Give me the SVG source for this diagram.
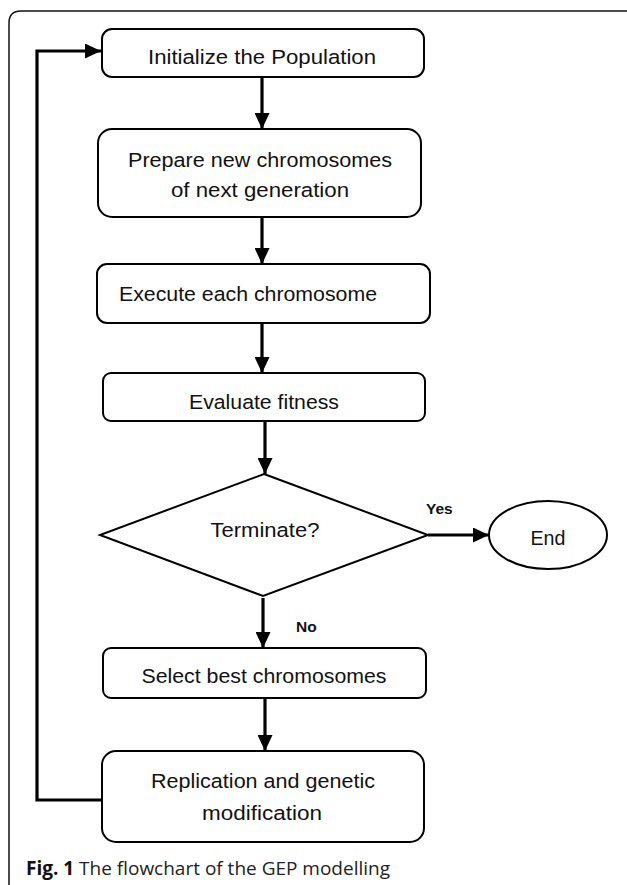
<svg xmlns="http://www.w3.org/2000/svg" width="627" height="885" viewBox="0 0 627 885">
<defs>
<marker id="ah" markerWidth="16" markerHeight="15" refX="16" refY="7.5" orient="auto" markerUnits="userSpaceOnUse">
<path d="M0,0 L16,7.5 L0,15 Z" fill="#000"/>
</marker>
<style>
.box{fill:#fff;stroke:#000;stroke-width:2}
.t{font-family:"Liberation Sans",Arial,sans-serif;font-size:20.5px;fill:#111;text-anchor:middle}
.lb{font-family:"Liberation Sans",Arial,sans-serif;font-size:15.5px;font-weight:bold;fill:#111}
.c{stroke:#000;stroke-width:3.2;fill:none}
.cap{font-family:"Open Sans",sans-serif;font-size:19px;fill:#222}
</style>
</defs>
<rect width="627" height="885" fill="#fff"/>
<path d="M9,885 L9,23 Q9,11 21,11 L627,11" fill="none" stroke="#111" stroke-width="1.5"/>
<g id="connectors">
<line class="c" x1="262" y1="78" x2="262" y2="129" marker-end="url(#ah)"/>
<line class="c" x1="262" y1="218" x2="262" y2="264" marker-end="url(#ah)"/>
<line class="c" x1="262" y1="324" x2="262" y2="373" marker-end="url(#ah)"/>
<line class="c" x1="265" y1="422" x2="265" y2="474" marker-end="url(#ah)"/>
<line class="c" x1="428" y1="535" x2="489" y2="535" stroke-width="4.5" marker-end="url(#ah)"/>
<line class="c" x1="263" y1="598" x2="263" y2="648" marker-end="url(#ah)"/>
<line class="c" x1="265" y1="698" x2="265" y2="751" marker-end="url(#ah)"/>
<polyline class="c" points="102,800 37,800 37,51 101,51" stroke-width="4.5" marker-end="url(#ah)"/>
<text class="lb" x="426" y="514">Yes</text>
<text class="lb" x="296" y="632">No</text>
</g>
<g id="init">
<rect class="box" x="102" y="29" width="322" height="48" rx="10"/>
<text class="t" x="262" y="64" textLength="228" lengthAdjust="spacingAndGlyphs">Initialize the Population</text>
</g>
<g id="prepare">
<rect class="box" x="98" y="129" width="323" height="88" rx="14"/>
<text class="t" x="260" y="167" textLength="264" lengthAdjust="spacingAndGlyphs">Prepare new chromosomes</text>
<text class="t" x="260" y="197" textLength="178" lengthAdjust="spacingAndGlyphs">of next generation</text>
</g>
<g id="execute">
<rect class="box" x="97" y="264" width="333" height="59" rx="10"/>
<text class="t" x="248" y="301" textLength="258" lengthAdjust="spacingAndGlyphs">Execute each chromosome</text>
</g>
<g id="evaluate">
<rect class="box" x="103" y="373" width="322" height="48" rx="8"/>
<text class="t" x="264" y="409" textLength="150" lengthAdjust="spacingAndGlyphs">Evaluate fitness</text>
</g>
<g id="terminate">
<polygon class="box" points="264,474 428,535 263,596 100,535"/>
<text class="t" x="265" y="537" textLength="109" lengthAdjust="spacingAndGlyphs">Terminate?</text>
</g>
<g id="end">
<ellipse class="box" cx="548" cy="535" rx="59" ry="34"/>
<text class="t" x="548" y="545" textLength="35" lengthAdjust="spacingAndGlyphs">End</text>
</g>
<g id="select">
<rect class="box" x="103" y="648" width="323" height="50" rx="8"/>
<text class="t" x="264" y="683" textLength="245" lengthAdjust="spacingAndGlyphs">Select best chromosomes</text>
</g>
<g id="replication">
<rect class="box" x="102" y="751" width="322" height="91" rx="14"/>
<text class="t" x="263" y="788" textLength="224" lengthAdjust="spacingAndGlyphs">Replication and genetic</text>
<text class="t" x="262" y="820" textLength="120" lengthAdjust="spacingAndGlyphs">modification</text>
</g>
<text class="cap" x="26" y="875" textLength="364" lengthAdjust="spacingAndGlyphs"><tspan font-weight="bold" fill="#111">Fig. 1</tspan> The flowchart of the GEP modelling</text>
</svg>
